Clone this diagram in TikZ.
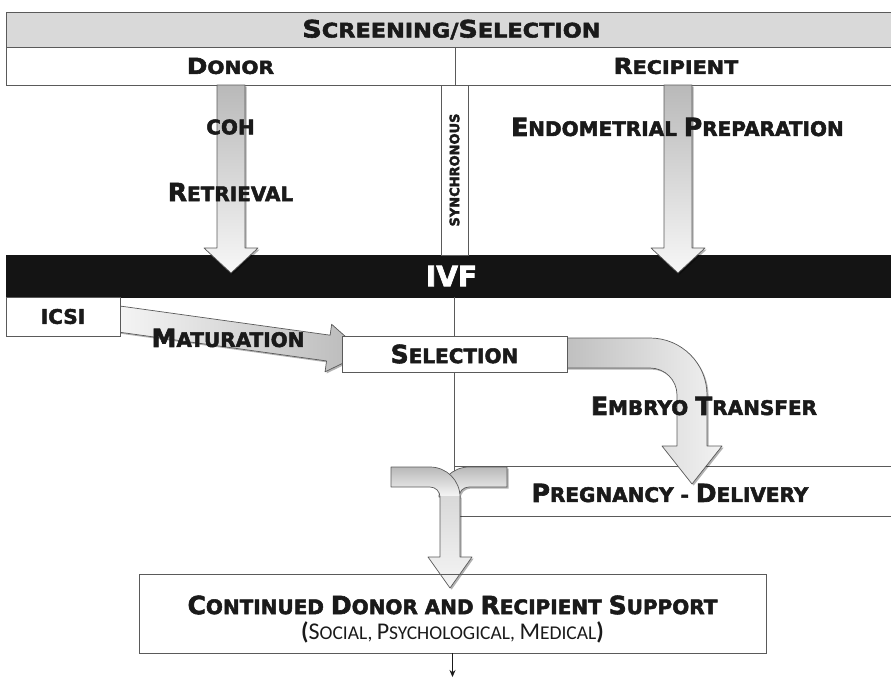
\documentclass[tikz,border=0pt]{standalone}
\usepackage{fontspec}
\usetikzlibrary{calc,arrows.meta,shadows}
\newfontfamily\hf{DejaVu Sans}[BoldFeatures={FakeBold=2.5}]
\newfontfamily\hfw{DejaVu Sans}[FakeStretch=1.12,BoldFeatures={FakeBold=2.5}]
\newfontfamily\cf{Carlito}
\newcommand\Bg{\fontsize{25}{28}\selectfont}
\newcommand\BgS{\fontsize{22}{24}\selectfont}
\newcommand\BgH{\fontsize{24}{26}\selectfont}
\newcommand\BgC{\fontsize{24}{27}\selectfont}
\definecolor{txt}{HTML}{1A1A1A}
\definecolor{edge}{HTML}{5A5A5A}
\definecolor{hdrfill}{HTML}{D9D9D9}
\definecolor{bar}{HTML}{141414}
\tikzset{
  box/.style={draw=edge, line width=0.8pt, fill=white, inner sep=0pt, text=txt,
              font=\hf\bfseries\fontsize{20}{22}\selectfont},
  lbl/.style={inner sep=0pt, text=txt, font=\hf\bfseries\fontsize{20}{22}\selectfont},
  blk/.style={draw=edge, line width=0.7pt, line join=round},
  shd/.style={drop shadow={shadow xshift=1.6pt, shadow yshift=-1.6pt, opacity=0.3, fill=black}},
  vgrad/.style={top color=gray!55, bottom color=gray!6},
}
\begin{document}
\begin{tikzpicture}[x=1pt, y=-1pt]
\useasboundingbox (0,0) rectangle (891,678);
\clip (0,0) rectangle (891,678);

% header rows
\node[box, fill=hdrfill, minimum width=891, minimum height=35, font=\hfw\bfseries\fontsize{20}{22}\selectfont] (hdr) at (451.5,29.5) {{\BgH S}CREENING/{\BgH S}ELECTION};
\node[box, minimum width=449, minimum height=38, font=\hfw\bfseries\fontsize{18}{20}\selectfont] (donor) at (230.5,66) {{\BgS D}ONOR};
\node[box, minimum width=442, minimum height=38, font=\hfw\bfseries\fontsize{18.5}{20}\selectfont] (recip) at (676,66) {{\BgS R}ECIPIENT};

% IVF bar
\node[fill=bar, draw=bar, minimum width=891, minimum height=42, inner sep=0pt, text=white,
      font=\hf\bfseries\fontsize{28}{30}\selectfont] (ivf) at (451.5,276) {IVF};

% synchronous strip
\node[box, minimum width=27, minimum height=170] (sync) at (454.5,170) {};
\node[lbl, rotate=90, font=\hf\bfseries\fontsize{13}{15}\selectfont] (synct) at (sync.center) {SYNCHRONOUS};

% donor / recipient arrows
\path[blk, shd, vgrad] (217,85) -- (217,248) -- (204,248) -- (231,273) -- (258,248) -- (245,248) -- (245,85) -- cycle;
\path[blk, shd, vgrad] (664,85) -- (664,248) -- (651,248) -- (678,273) -- (705,248) -- (692,248) -- (692,85) -- cycle;
\node[lbl] (coh) at (230.5,127) {COH};
\node[lbl] (retr) at (230.5,192) {{\Bg R}ETRIEVAL};
\node[lbl] (endo) at (677.5,127) {{\Bg E}NDOMETRIAL {\Bg P}REPARATION};

% vertical divider below IVF
\draw[edge, line width=0.8pt] (454,297) -- (454,516);

% pregnancy box
\node[box, minimum width=443, minimum height=50] (preg) at (675.5,491) {};
\node[lbl] (pregt) at (670,493) {{\Bg P}REGNANCY - {\Bg D}ELIVERY};

% maturation arrow
\coordinate (ms) at (119,319);
\coordinate (mt) at (364,353);
\coordinate (hb) at ($(mt)!36pt!(ms)$);
\path[blk, shd, left color=gray!8, right color=gray!55]
  ($(ms)!13pt!90:(mt)$) -- ($(hb)!13pt!90:(mt)$) -- ($(hb)!24pt!90:(mt)$) -- (mt)
  -- ($(hb)!24pt!-90:(mt)$) -- ($(hb)!13pt!-90:(mt)$) -- ($(ms)!13pt!-90:(mt)$) -- cycle;

% ICSI and selection boxes
\node[box, minimum width=114, minimum height=39] (icsi) at (63,316.5) {ICSI};
\node[lbl] (matur) at (228,338) {{\Bg M}ATURATION};

% curved arrow to embryo transfer
\path[blk, shd, left color=gray!50, right color=gray!10]
  (566,338) -- (650,338) .. controls (681.5,338) and (707,363.5) .. (707,395)
  -- (707,446) -- (722,446) -- (692,484) -- (662,446) -- (677,446) -- (677,395)
  .. controls (677,380.1) and (664.9,368) .. (650,368) -- (566,368) -- cycle;
\node[box, minimum width=225, minimum height=36] (sel) at (454.5,354) {{\Bg S}ELECTION};
\node[lbl] (embryo) at (704,406) {{\Bg E}MBRYO {\Bg T}RANSFER};

% merging T arrow
\path[blk, shd, vgrad] (507,467) -- (469,467) .. controls (452.4,467) and (439,480.4) .. (439,497)
  -- (459,497) .. controls (459,491.5) and (463.5,487) .. (469,487) -- (507,487) -- cycle;
\path[blk, vgrad] (391,467) -- (430,467) .. controls (446.6,467) and (460,480.4) .. (460,497)
  -- (440,497) .. controls (440,491.5) and (435.5,487) .. (430,487) -- (391,487) -- cycle;
\path[shd, top color=gray!30, bottom color=gray!8] (440,496) -- (440,557) -- (428,557) -- (450,588) -- (472,557) -- (460,557) -- (460,496) -- cycle;
\draw[blk] (440,496) -- (440,557) -- (428,557) -- (450,588) -- (472,557) -- (460,557) -- (460,496);

% support box
\node[box, minimum width=627, minimum height=79, fill=none] (sup) at (452.5,613.5) {};
\node[lbl] (sup1) at (452.5,605) {{\Bg C}ONTINUED {\Bg D}ONOR AND {\Bg R}ECIPIENT {\Bg S}UPPORT};
\node[inner sep=0pt, text=txt, font=\cf\fontsize{19.5}{22}\selectfont] (sup2) at (452.5,632)
  {{\bfseries\BgC (}{\BgC S}OCIAL, {\BgC P}SYCHOLOGICAL, {\BgC M}EDICAL{\bfseries\BgC )}};
\coordinate (end) at (452.5,677);
\draw[txt, line width=0.8pt, -{Stealth[length=7pt,width=6pt]}] (sup.south) -- (end);
\end{tikzpicture}
\end{document}
